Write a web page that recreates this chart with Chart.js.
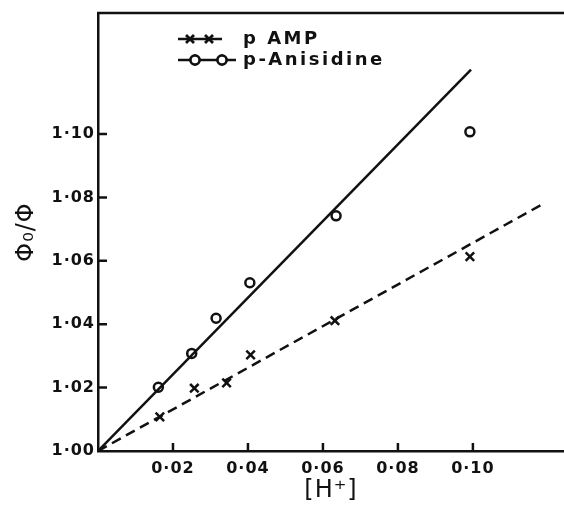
<!DOCTYPE html>
<html>
<head>
<meta charset="utf-8">
<script src="https://cdn.jsdelivr.net/npm/chart.js@4/dist/chart.umd.min.js"></script>
<style>
  html, body { margin: 0; padding: 0; background: #fff; }
  #wrap { width: 564px; height: 510px; }
</style>
</head>
<body>
<div id="wrap"><canvas id="chart" width="564" height="510"></canvas></div>
<script>
const anisX = [0.0161, 0.0250, 0.0315, 0.0405, 0.0635, 0.0992];
const anisY = [1.0201, 1.0308, 1.0419, 1.0531, 1.0742, 1.1007];
const ampX = [0.0165, 0.0257, 0.0343, 0.0407, 0.0632, 0.0992];
const ampY = [1.0108, 1.0198, 1.0215, 1.0303, 1.0411, 1.0613];

// fitted straight lines (start / end)
const anisFitX = [0, 0.0995];
const anisFitY = [1.0, 1.1203];
const ampFitX = [0, 0.1180];
const ampFitY = [1.0, 1.0775];

// tick values and labels
const xTicks = [0.02, 0.04, 0.06, 0.08, 0.10];
const xTickLabels = ['0·02', '0·04', '0·06', '0·08', '0·10'];
const yTicks = [1.00, 1.02, 1.04, 1.06, 1.08, 1.10];
const yTickLabels = ['1·00', '1·02', '1·04', '1·06', '1·08', '1·10'];

const seriesNames = ['p AMP', 'p-Anisidine'];

const toPoints = (xs, ys) => xs.map((x, i) => ({ x: x, y: ys[i] }));
const ink = '#111';
const tickFont = { family: 'DejaVu Sans', size: 16, weight: 'bold' };

// draws inward ticks, top frame line and the legend
const framePlugin = {
    id: 'frame',
    beforeDraw(chart) {
        chart.ctx.letterSpacing = '1px';
    },
    afterDraw(chart) {
        const ctx = chart.ctx;
        const area = chart.chartArea;
        const xs = chart.scales.x;
        const ys = chart.scales.y;
        ctx.save();
        ctx.strokeStyle = ink;
        ctx.lineWidth = 2.5;
        ctx.beginPath();
        ctx.moveTo(area.left - 1, area.top);
        ctx.lineTo(area.right, area.top);
        xTicks.forEach(v => {
            const px = xs.getPixelForValue(v);
            ctx.moveTo(px, area.bottom);
            ctx.lineTo(px, area.bottom - 8);
        });
        yTicks.forEach(v => {
            if (v === 1.00) return;
            const py = ys.getPixelForValue(v);
            ctx.moveTo(area.left, py);
            ctx.lineTo(area.left + 9, py);
        });
        ctx.stroke();

        // legend
        const rows = [
            { y: 39, x0: 178, x1: 222, marks: [190, 209], style: 'crossRot', r: 5.5 },
            { y: 60, x0: 178, x1: 236, marks: [195, 222], style: 'circle', r: 4.5 }
        ];
        rows.forEach((row, i) => {
            ctx.strokeStyle = ink;
            ctx.lineWidth = 2.5;
            ctx.beginPath();
            ctx.moveTo(row.x0, row.y);
            ctx.lineTo(row.x1, row.y);
            ctx.stroke();
            row.marks.forEach(mx => {
                ctx.fillStyle = '#fff';
                Chart.helpers.drawPoint(ctx, {
                    pointStyle: row.style, radius: row.r, borderWidth: 2.5, rotation: 0
                }, mx, row.y);
                if (row.style === 'circle') ctx.fill();
                ctx.stroke();
            });
            ctx.fillStyle = ink;
            ctx.font = 'bold 18px "DejaVu Sans"';
            ctx.letterSpacing = '2.5px';
            ctx.textBaseline = 'middle';
            ctx.textAlign = 'left';
            ctx.fillText(seriesNames[i], 243, row.y);
        });
        ctx.restore();
    }
};

new Chart(document.getElementById('chart'), {
    type: 'scatter',
    data: {
        datasets: [
            {
                label: seriesNames[1] + ' fit',
                data: toPoints(anisFitX, anisFitY),
                showLine: true,
                borderColor: ink,
                borderWidth: 2.5,
                pointRadius: 0
            },
            {
                label: seriesNames[0] + ' fit',
                data: toPoints(ampFitX, ampFitY),
                showLine: true,
                borderColor: ink,
                borderWidth: 2.5,
                borderDash: [10, 6],
                pointRadius: 0
            },
            {
                label: seriesNames[1],
                data: toPoints(anisX, anisY),
                showLine: false,
                pointStyle: 'circle',
                pointRadius: 4.5,
                pointBorderWidth: 2.5,
                pointBorderColor: ink,
                pointBackgroundColor: '#fff'
            },
            {
                label: seriesNames[0],
                data: toPoints(ampX, ampY),
                showLine: false,
                pointStyle: 'crossRot',
                pointRadius: 6,
                pointBorderWidth: 2.5,
                pointBorderColor: ink
            }
        ]
    },
    options: {
        responsive: false,
        animation: false,
        layout: { autoPadding: false, padding: { top: 13, right: 0, left: 0, bottom: 0 } },
        plugins: {
            legend: { display: false },
            tooltip: { enabled: false }
        },
        scales: {
            x: {
                type: 'linear',
                min: 0,
                max: 0.1243,
                afterFit(scale) {
                    scale.height = 59;
                },
                afterBuildTicks(scale) { scale.ticks = xTicks.map(v => ({ value: v })); },
                grid: { drawOnChartArea: false, drawTicks: false },
                border: { display: true, color: ink, width: 2.5 },
                ticks: {
                    color: ink,
                    font: tickFont,
                    padding: 8,
                    maxRotation: 0,
                    callback: (v) => xTickLabels[xTicks.findIndex(t => Math.abs(t - v) < 1e-9)]
                },
                title: {
                    display: true,
                    text: '[H⁺]',
                    color: ink,
                    font: { family: 'DejaVu Sans', size: 24 },
                    padding: { top: 0, bottom: 5 }
                }
            },
            y: {
                type: 'linear',
                min: 1.0,
                max: 1.1382,
                afterFit(scale) { scale.width = 98; },
                afterBuildTicks(scale) { scale.ticks = yTicks.map(v => ({ value: v })); },
                grid: { drawOnChartArea: false, drawTicks: false },
                border: { display: true, color: ink, width: 2.5 },
                ticks: {
                    color: ink,
                    font: tickFont,
                    padding: 3,
                    callback: (v) => yTickLabels[yTicks.findIndex(t => Math.abs(t - v) < 1e-9)]
                },
                title: {
                    display: true,
                    text: 'Φ₀/Φ',
                    color: ink,
                    font: { family: 'DejaVu Sans', size: 24 },
                    padding: { top: 12, bottom: 0 }
                }
            }
        }
    },
    plugins: [framePlugin]
});
</script>
</body>
</html>
